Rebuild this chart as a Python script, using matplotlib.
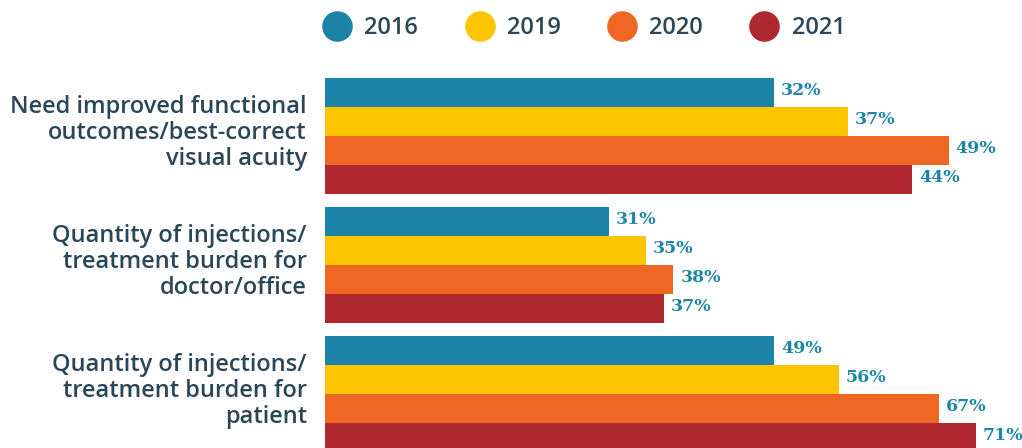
import matplotlib.pyplot as plt
import numpy as np
from matplotlib.lines import Line2D

categories = [
    'Need improved functional\noutcomes/best-correct\nvisual acuity',
    'Quantity of injections/\ntreatment burden for\ndoctor/office',
    'Quantity of injections/\ntreatment burden for\npatient',
]
years = ['2016', '2019', '2020', '2021']
# bar lengths as drawn in the picture (first group is drawn longer than its labels say)
bar_values = [
    [49, 31, 49],   # 2016
    [57, 35, 56],   # 2019
    [68, 38, 67],   # 2020
    [64, 37, 71],   # 2021
]
bar_labels = [
    ['32%', '31%', '49%'],
    ['37%', '35%', '56%'],
    ['49%', '38%', '67%'],
    ['44%', '37%', '71%'],
]
colors = ['#1b84a6', '#fdc500', '#f06724', '#b0282f']
text_dark = '#2a4657'
label_teal = '#1f86a8'

W, H = 1022, 448
fig = plt.figure(figsize=(W / 100, H / 100), dpi=100)
ax = fig.add_axes([325 / W, 0, (W - 325) / W, 1])

bar_h = 1.0
pitch = 129 / 29
centers = np.arange(len(categories)) * pitch

for j, yr in enumerate(years):
    ys = centers + (j - 1.5) * bar_h
    ax.barh(ys, bar_values[j], height=bar_h, color=colors[j], label=yr)
    for y, v, lab in zip(ys, bar_values[j], bar_labels[j]):
        ax.text(v + 0.75, y - 0.08, lab, va='center', ha='left', color=label_teal,
                fontsize=12.5, fontweight='bold', family='DejaVu Serif')

ax.set_xlim(0, (W - 325) / 9.17)
ax.set_ylim((448 - 136) / 29, -136 / 29)
ax.set_yticks(centers - 0.1)
ax.set_yticklabels(categories, fontsize=17, color=text_dark, family='Open Sans',
                   fontweight='semibold', linespacing=1.1)
for t in ax.get_yticklabels():
    t.set_va('center')
    t.set_multialignment('right')
ax.tick_params(axis='y', length=0, pad=13)
ax.set_xticks([])
for s in ax.spines.values():
    s.set_visible(False)

handles = [Line2D([], [], marker='o', linestyle='', markersize=21,
                  markerfacecolor=c, markeredgecolor=c) for c in colors]
leg = fig.legend(handles, years, loc='center', bbox_to_anchor=(0.567, 1 - 28 / H),
                 ncol=4, frameon=False, handletextpad=0.15, columnspacing=1.6,
                 prop={'family': 'Open Sans', 'weight': 'semibold', 'size': 17})
for t in leg.get_texts():
    t.set_color(text_dark)

fig.savefig('out.png', dpi=100)
